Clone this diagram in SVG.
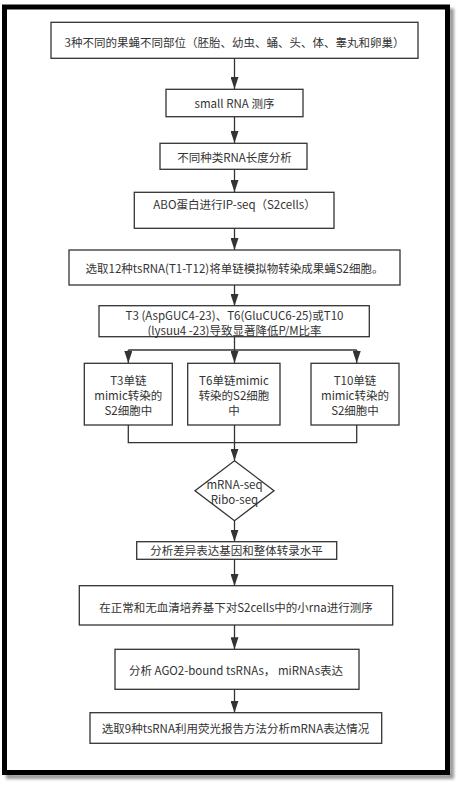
<svg xmlns="http://www.w3.org/2000/svg" width="460" height="786" viewBox="0 0 460 786">
<defs>
<marker id="ah" markerUnits="userSpaceOnUse" viewBox="0 0 12 8" refX="12" refY="4" markerWidth="12" markerHeight="8" orient="auto">
<path d="M0,0 L12,4 L0,8 z" fill="#333"/>
</marker>
<filter id="sh" x="-5%" y="-5%" width="110%" height="110%">
<feGaussianBlur stdDeviation="1.6"/>
</filter>
<style>
.b{fill:#fff;stroke:#333;stroke-width:1.3}
.t{font-family:"Noto Sans CJK SC","Noto Sans",sans-serif;font-size:11.5px;fill:#333;text-anchor:middle;dominant-baseline:central}
.c{fill:none;stroke:#333;stroke-width:1.3}
</style>
</defs>
<rect x="0" y="0" width="460" height="786" fill="#fff"/>
<rect x="8.5" y="11" width="443" height="765.5" fill="none" stroke="#999" stroke-width="5" filter="url(#sh)"/>
<rect x="4.5" y="7" width="443" height="765.5" fill="#fff" stroke="#000" stroke-width="5"/>

<g id="connectors">
<path class="c" d="M234.5,58 V89" marker-end="url(#ah)"/>
<path class="c" d="M234.5,117 V143" marker-end="url(#ah)"/>
<path class="c" d="M234.5,169 V192" marker-end="url(#ah)"/>
<path class="c" d="M234.5,228 V250" marker-end="url(#ah)"/>
<path class="c" d="M234.5,285 V306" marker-end="url(#ah)"/>
<path class="c" d="M234.5,337 V363" marker-end="url(#ah)"/>
<path class="c" d="M128.3,350 H356.7"/>
<path class="c" d="M128.3,350 V363" marker-end="url(#ah)"/>
<path class="c" d="M356.7,350 V363" marker-end="url(#ah)"/>
<path class="c" d="M128.3,425 V442.7 H356.7 V425"/>
<path class="c" d="M234.5,425 V460.7" marker-end="url(#ah)"/>
<path class="c" d="M234.5,520.7 V541.7" marker-end="url(#ah)"/>
<path class="c" d="M234.5,559.3 V586" marker-end="url(#ah)"/>
<path class="c" d="M234.5,625 V649.3" marker-end="url(#ah)"/>
<path class="c" d="M234.5,689.3 V712.7" marker-end="url(#ah)"/>
</g>

<g id="n1"><rect class="b" x="51" y="22.3" width="367" height="36"/><text class="t" x="234.5" y="41.5">3种不同的果蝇不同部位（胚胎、幼虫、蛹、头、体、睾丸和卵巢）</text></g>
<g id="n2"><rect class="b" x="166" y="89.3" width="137" height="27.4"/><text class="t" x="234.5" y="103.3">small RNA 测序</text></g>
<g id="n3"><rect class="b" x="160" y="143.3" width="147" height="26"/><text class="t" x="234.5" y="156.5">不同种类RNA长度分析</text></g>
<g id="n4"><rect class="b" x="134.3" y="192.3" width="199.7" height="36"/><text class="t" x="234.5" y="203.5">ABO蛋白进行IP-seq（S2cells）</text></g>
<g id="n5"><rect class="b" x="69" y="250" width="331" height="35"/><text class="t" x="234.5" y="268.3">选取12种tsRNA(T1-T12)将单链模拟物转染成果蝇S2细胞。</text></g>
<g id="n6"><rect class="b" x="99" y="305.7" width="270.3" height="31"/><text class="t" x="234.5" y="315">T3 (AspGUC4-23)、T6(GluCUC6-25)或T10</text><text class="t" x="234.5" y="330">(lysuu4 -23)导致显著降低P/M比率</text></g>
<g id="n7"><rect class="b" x="84.3" y="363.3" width="88" height="61.7"/><text class="t" x="128.3" y="379.5">T3单链</text><text class="t" x="128.3" y="394.5">mimic转染的</text><text class="t" x="128.3" y="409.5">S2细胞中</text></g>
<g id="n8"><rect class="b" x="187.7" y="363.3" width="92.3" height="61.7"/><text class="t" x="234" y="379.5">T6单链mimic</text><text class="t" x="234" y="394.5">转染的S2细胞</text><text class="t" x="234" y="409.5">中</text></g>
<g id="n9"><rect class="b" x="311" y="363.3" width="88" height="61.7"/><text class="t" x="355" y="379.5">T10单链</text><text class="t" x="355" y="394.5">mimic转染的</text><text class="t" x="355" y="409.5">S2细胞中</text></g>
<g id="n10"><path class="b" d="M234.5,460.7 L274,490.7 L234.5,520.7 L195,490.7 z"/><text class="t" x="234.5" y="483.5">mRNA-seq</text><text class="t" x="234.5" y="498.5">Ribo-seq</text></g>
<g id="n11"><rect class="b" x="136.7" y="541.7" width="200" height="17.6"/><text class="t" x="236.5" y="550.3">分析差异表达基因和整体转录水平</text></g>
<g id="n12"><rect class="b" x="79.3" y="585.7" width="313.4" height="39.3"/><text class="t" x="236" y="606.5">在正常和无血清培养基下对S2cells中的小rna进行测序</text></g>
<g id="n13"><rect class="b" x="115" y="649.3" width="244" height="40"/><text class="t" x="236" y="670">分析 AGO2-bound tsRNAs， miRNAs表达</text></g>
<g id="n14"><rect class="b" x="90" y="712.7" width="291.7" height="30.6"/><text class="t" x="235.5" y="728.3">选取9种tsRNA利用荧光报告方法分析mRNA表达情况</text></g>
</svg>
